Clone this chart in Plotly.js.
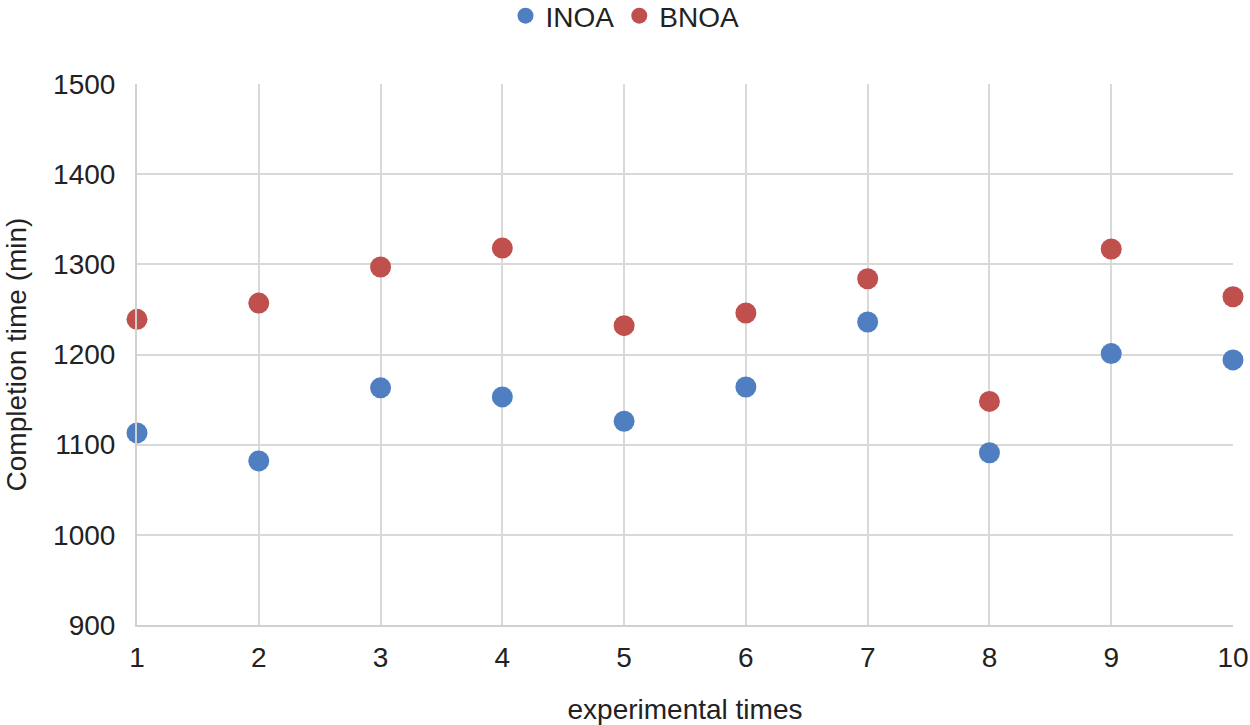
<!DOCTYPE html>
<html>
<head>
<meta charset="utf-8">
<script src="https://cdn.plot.ly/plotly-3.0.1.min.js"></script>
<style>html,body{margin:0;padding:0;background:#fff;}#chart{width:1250px;height:725px;}</style>
</head>
<body>
<div id="chart"></div>
<script>
const runs = [1, 2, 3, 4, 5, 6, 7, 8, 9, 10];
const inoa = [1113, 1082, 1163, 1153, 1126, 1164, 1236, 1091, 1201, 1194];
const bnoa = [1239, 1257, 1297, 1318, 1232, 1246, 1284, 1148, 1317, 1264];
const xTicks = [1, 2, 3, 4, 5, 6, 7, 8, 9, 10];
const yTicks = [900, 1000, 1100, 1200, 1300, 1400, 1500];

const font = {family: '"Liberation Sans", Arial, sans-serif', color: '#222', size: 28};

const traces = [
  {x: runs, y: inoa, name: 'INOA', type: 'scatter', mode: 'markers',
   marker: {color: '#4F7FC0', size: 21}, cliponaxis: false},
  {x: runs, y: bnoa, name: 'BNOA', type: 'scatter', mode: 'markers',
   marker: {color: '#C0504D', size: 21}, cliponaxis: false}
];

const layout = {
  width: 1250, height: 725,
  margin: {l: 137, r: 17, t: 84, b: 100},
  paper_bgcolor: '#fff', plot_bgcolor: '#fff',
  font: font,
  showlegend: true,
  legend: {orientation: 'h', x: 0.5, xanchor: 'center', xref: 'container',
           y: 0.978, yanchor: 'middle', yref: 'container',
           font: font, itemwidth: 30, tracegroupgap: 0},
  xaxis: {
    range: [1, 10], tickvals: xTicks, ticktext: xTicks.map(String),
    showgrid: true, gridcolor: '#d9d9d9', gridwidth: 2,
    zeroline: false, showline: true, linecolor: '#d0d0d0', linewidth: 2,
    ticks: '', ticklen: 0, tickfont: font, ticklabelstandoff: 6,
    title: {text: 'experimental times', font: font, standoff: 28}
  },
  yaxis: {
    range: [900, 1500], tickvals: yTicks,
    showgrid: true, gridcolor: '#d9d9d9', gridwidth: 2,
    zeroline: false, showline: true, linecolor: '#d0d0d0', linewidth: 2,
    ticks: '', tickfont: font, ticklabelstandoff: 14,
    title: {text: 'Completion time (min)', font: font, standoff: 18}
  }
};

Plotly.newPlot('chart', traces, layout, {displayModeBar: false, staticPlot: true});
</script>
</body>
</html>
